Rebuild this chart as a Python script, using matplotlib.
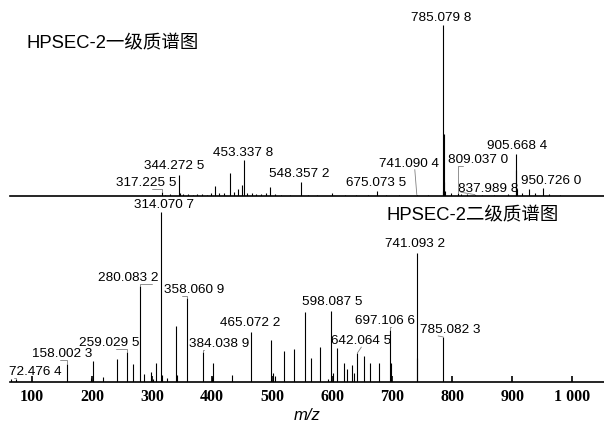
import matplotlib
matplotlib.use("Agg")
import matplotlib.pyplot as plt

# MS1 (top panel) peaks: m/z and relative intensity
ms1_mz = [317.2255, 322, 330, 344.2725, 346, 352, 360, 368, 375, 383, 391, 398,
          405, 412, 420, 430, 437, 443, 450, 453.3378, 458, 466, 474, 482, 490,
          497, 505, 515, 530, 548.3572, 560, 575, 600, 622, 640, 660, 675.0735,
          690, 712, 741.0904, 760, 784.08, 785.0798, 786.08, 787.08, 788.1, 798,
          809.0370, 815, 825, 837.9898, 850, 870, 893, 905.6684, 906.67, 907.67,
          917, 928, 938, 950.7260, 962, 980]
ms1_int = [2.3, 0.8, 1.0, 12, 1.5, 1.0, 1.2, 0.8, 1.0, 1.2, 0.8, 1.5,
           6, 2, 1.5, 13.5, 2.5, 4, 6.5, 21, 2, 1.5, 1.2, 1.0, 1.5,
           5, 1.2, 0.8, 0.6, 8, 0.8, 0.6, 2, 0.8, 0.6, 0.8, 3,
           0.8, 0.6, 0.8, 0.5, 3, 100, 36, 8, 3, 1.5,
           1.5, 1.0, 1.0, 0.8, 0.6, 0.6, 1.0, 24.6, 15, 4,
           2, 4.2, 1.5, 4.7, 1.0, 0.6]

# MS2 (bottom panel) peaks
ms2_mz = [65, 72.4764, 158.0023, 198, 201.7, 218, 241.7, 259.0295, 268, 280.0832,
          286, 298, 301, 307, 314.0707, 316, 324.5, 340, 341.7, 358.0609,
          384.0389, 400.5, 401.7, 433, 465.0722, 498.5, 501.5, 505, 520, 537,
          555, 565, 580, 593, 598.0875, 601.7, 608, 620, 624.5, 633, 637,
          642.0645, 653, 663, 678, 697.1066, 698.1, 741.0932, 742.1, 785.0823]
ms2_int = [2, 2, 10.6, 2.4, 12.4, 3, 13.5, 17.6, 10.6, 56.5,
           4.7, 5.9, 2, 11, 100, 4, 2.4, 33, 4, 49.4,
           17.6, 3, 11, 4, 29.4, 24.7, 5, 3.5, 18, 19.4,
           41, 14, 20.6, 2, 42, 5, 20, 11, 7.6, 10, 5,
           17, 15, 11, 11, 30.6, 11, 75.9, 14, 26.5]

ms1_labels = [785.0798, 905.6684, 950.7260, 837.9898, 809.0370, 741.0904,
              675.0735, 548.3572, 453.3378, 344.2725, 317.2255]
ms2_labels = [314.0707, 280.0832, 358.0609, 465.0722, 384.0389, 259.0295,
              158.0023, 72.4764, 598.0875, 697.1066, 642.0645, 741.0932, 785.0823]

xticks = [100, 200, 300, 400, 500, 600, 700, 800, 900, 1000]
xticklabels = ["100", "200", "300", "400", "500", "600", "700", "800", "900", "1 000"]

title1 = "HPSEC-2一级质谱图"
title2 = "HPSEC-2二级质谱图"

# label placement: (dx, dy) pixel offset from peak top, leader relpos, leader style
ms1_place = {
    785.0798: (-2, 7, None, None),
    905.6684: (2, 8, None, None),
    950.7260: (9, 7, None, None),
    837.9898: (13, 6, (0.05, 0.2), "arc3"),
    809.0370: (20, 33, (0.25, 0.0), "angle"),
    741.0904: (-8, 31, (0.6, 0.0), "arc3"),
    675.0735: (-1, 8, None, None),
    548.3572: (-2, 8, None, None),
    453.3378: (-1, 7, None, None),
    344.2725: (-4, 9, None, None),
    317.2255: (-16, 9, (0.6, 0.0), "angle"),
}
ms2_place = {
    314.0707: (3, 7, None, None),
    280.0832: (-12, 8, (0.9, 0.0), "angle"),
    358.0609: (7, 8, (0.3, 0.0), "angle"),
    465.0722: (-1, 9, None, None),
    384.0389: (17, 8, (0.25, 0.0), "angle"),
    259.0295: (-18, 9, (0.6, 0.0), "angle"),
    158.0023: (-5, 10, (0.47, 0.0), "angle"),
    72.4764: (20, 7, (0.1, 0.0), "angle"),
    598.0875: (1, 9, None, None),
    697.1066: (-5, 9, (0.6, 0.0), "angle"),
    642.0645: (4, 12, (0.5, 0.0), "arc3"),
    741.0932: (-2, 9, None, None),
    785.0823: (7, 7, (0.3, 0.0), "arc3"),
}

styles = {"angle": "angle,angleA=0,angleB=90,rad=0", "arc3": "arc3"}


def fmt(v):
    s = "%.4f" % v
    return s[:-1] + " " + s[-1]


W, H = 604, 422
fig = plt.figure(figsize=(W / 100, H / 100), dpi=100)
xmin, xmax = 63.3, 1053

ax1 = fig.add_axes([10 / W, (H - 196) / H, 594 / W, 196 / H])
ax2 = fig.add_axes([10 / W, 40 / H, 594 / W, 186 / H])
ax1.set_ylim(0, 114.6)
ax2.set_ylim(0, 109.4)

lab_font = dict(family="Liberation Sans", size=9.7, color="black")


def draw(ax, mz, inten, labels, place):
    ax.vlines(mz, 0, inten, color="black", lw=0.8)
    ax.set_xlim(xmin, xmax)
    for s in ["top", "left", "right"]:
        ax.spines[s].set_visible(False)
    ax.spines["bottom"].set_linewidth(1.2)
    ax.set_yticks([])
    ax.patch.set_alpha(0)
    for v in labels:
        h = inten[mz.index(v)]
        dx, dy, lead, st = place[v]
        kw = {}
        if lead is not None:
            kw["arrowprops"] = dict(arrowstyle="-", color="#808080", lw=0.6,
                                    shrinkA=0, shrinkB=0, relpos=lead, patchA=None,
                                    connectionstyle=styles[st])
        ax.annotate(fmt(v), xy=(v, h), xytext=(dx, dy), textcoords="offset pixels",
                    ha="center", va="center", annotation_clip=False, **lab_font, **kw)


draw(ax1, ms1_mz, ms1_int, ms1_labels, ms1_place)
draw(ax2, ms2_mz, ms2_int, ms2_labels, ms2_place)

ax1.set_xticks([])
ax2.set_xticks(xticks)
ax2.set_xticklabels(xticklabels, family="Liberation Serif", fontweight="bold", size=11.5)
ax2.tick_params(axis="x", direction="in", length=4, width=1.2, pad=5)
ax2.set_xlabel("m/z", family="Liberation Sans", style="italic", size=12, labelpad=2)

tfont = dict(family=["Liberation Sans", "Noto Sans CJK SC"], size=13.3)
fig.text(27 / W, 1 - 44 / H, title1, ha="left", va="center", **tfont)
fig.text(387 / W, 1 - 216 / H, title2, ha="left", va="center", **tfont)

fig.savefig("out.png", dpi=100)
